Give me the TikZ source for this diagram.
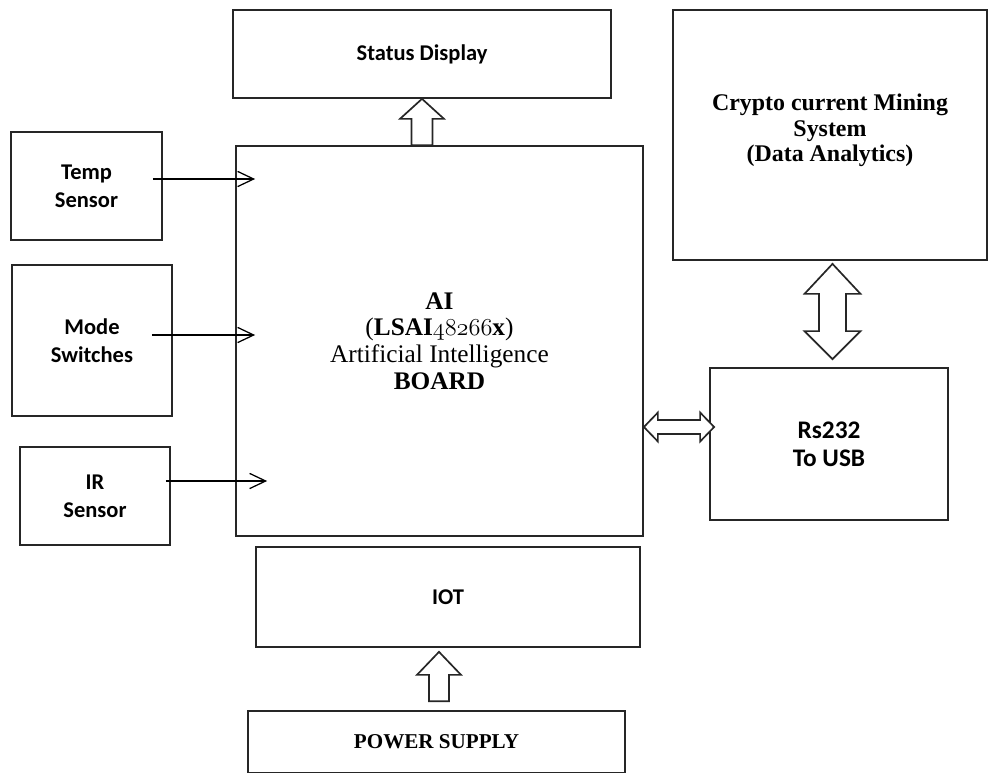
\documentclass[tikz,border=0pt]{standalone}
\usepackage{fontspec}
\newfontfamily\calib{Carlito}
\newfontfamily\timesf{Liberation Serif}
\usetikzlibrary{calc,arrows.meta}

\begin{document}
\begin{tikzpicture}[x=0.025cm,y=-0.025cm,>={Straight Barb[length=4mm,width=3.8mm]}]
\tikzstyle{block}=[rectangle,draw=black!85,line width=1.2pt,inner sep=0pt,align=center,font=\calib\bfseries\fontsize{16}{20}\selectfont]
\tikzstyle{sig}=[->,line width=0.9pt]
\tikzstyle{hollow}=[draw=black!85,line width=1.2pt,fill=white,line join=miter]
\useasboundingbox (0,0) rectangle (989,772);
\node[block,minimum width=9.45cm,minimum height=2.2cm] (disp) at (422,54) {Status Display};
\node[block,minimum width=7.85cm,minimum height=6.25cm,font=\timesf\bfseries\fontsize{17}{18}\selectfont] (crypto) at (830,135) {Crypto current Mining\\System\\(Data Analytics)\\[-8pt]};
\node[block,minimum width=3.775cm,minimum height=2.7cm] (temp) at (86.5,186) {Temp\\Sensor};
\node[block,minimum width=4cm,minimum height=3.775cm] (mode) at (92,340.5) {Mode\\Switches};
\node[block,minimum width=3.75cm,minimum height=2.45cm] (ir) at (95,496) {IR\\Sensor};
\node[block,minimum width=10.175cm,minimum height=9.75cm,font=\timesf\fontsize{18}{19}\selectfont] (ai) at (439.5,341) {{\bfseries AI}\\({\bfseries LSAI}$\mathnormal{48266}${\bfseries x})\\Artificial Intelligence\\{\bfseries BOARD}};
\node[block,minimum width=5.95cm,minimum height=3.8cm,font=\calib\bfseries\fontsize{18}{20}\selectfont] (rs) at (829,444) {Rs232\\To USB};
\node[block,minimum width=9.6cm,minimum height=2.5cm] (iot) at (448,597) {IOT};
\node[block,minimum width=9.425cm,minimum height=1.55cm,font=\timesf\bfseries\fontsize{15}{18}\selectfont] (pwr) at (436.5,742) {POWER SUPPLY};
\draw[sig] ($(temp.east)+(-10,-7)$) -- ($(ai.west|-temp.east)+(20,-7)$);
\draw[sig] ($(mode.east)+(-21,-5.5)$) -- ($(ai.west|-mode.east)+(20,-5.5)$);
\draw[sig] ($(ir.east)+(-5,-15)$) -- ($(ai.west|-ir.east)+(32,-15)$);
\draw[hollow] (disp.south) -- ++(22,20) -- ++(-11.5,0) -- ($(disp.south|-ai.north)+(10.5,0)$) -- ++(-21,0) -- ($(disp.south)+(-10.5,20)$) -- ++(-11.5,0) -- cycle;
\coordinate (top) at ($(crypto.south)+(2.5,3)$);
\coordinate (bot) at ($(rs.north)+(3.5,-8)$);
\draw[hollow] (top) -- ++(28,30) -- ++(-14.5,0) -- ($(bot)+(13.5,-28)$) -- ++(14.5,0) -- (bot) -- ++(-28,-28) -- ++(14.5,0) -- ($(top)+(-13.5,30)$) -- ++(-14.5,0) -- cycle;
\coordinate (rtip) at ($(rs.west)+(5,-17)$);
\coordinate (ltip) at (ai.east|-rtip);
\draw[hollow] (ltip) -- ++(14,-14.5) -- ++(0,7.5) -- ($(rtip)+(-14,-7)$) -- ++(0,-7.5) -- (rtip) -- ++(-14,14.5) -- ++(0,-7.5) -- ($(ltip)+(14,7)$) -- ++(0,7.5) -- cycle;
\coordinate (ptip) at ($(pwr.north|-iot.south)+(2.5,4)$);
\coordinate (pbase) at ($(pwr.north)+(2.5,-9)$);
\draw[hollow] (ptip) -- ++(22,23) -- ++(-12,0) -- ($(pbase)+(10,0)$) -- ++(-20,0) -- ($(ptip)+(-10,23)$) -- ++(-12,0) -- cycle;
\end{tikzpicture}
\end{document}
